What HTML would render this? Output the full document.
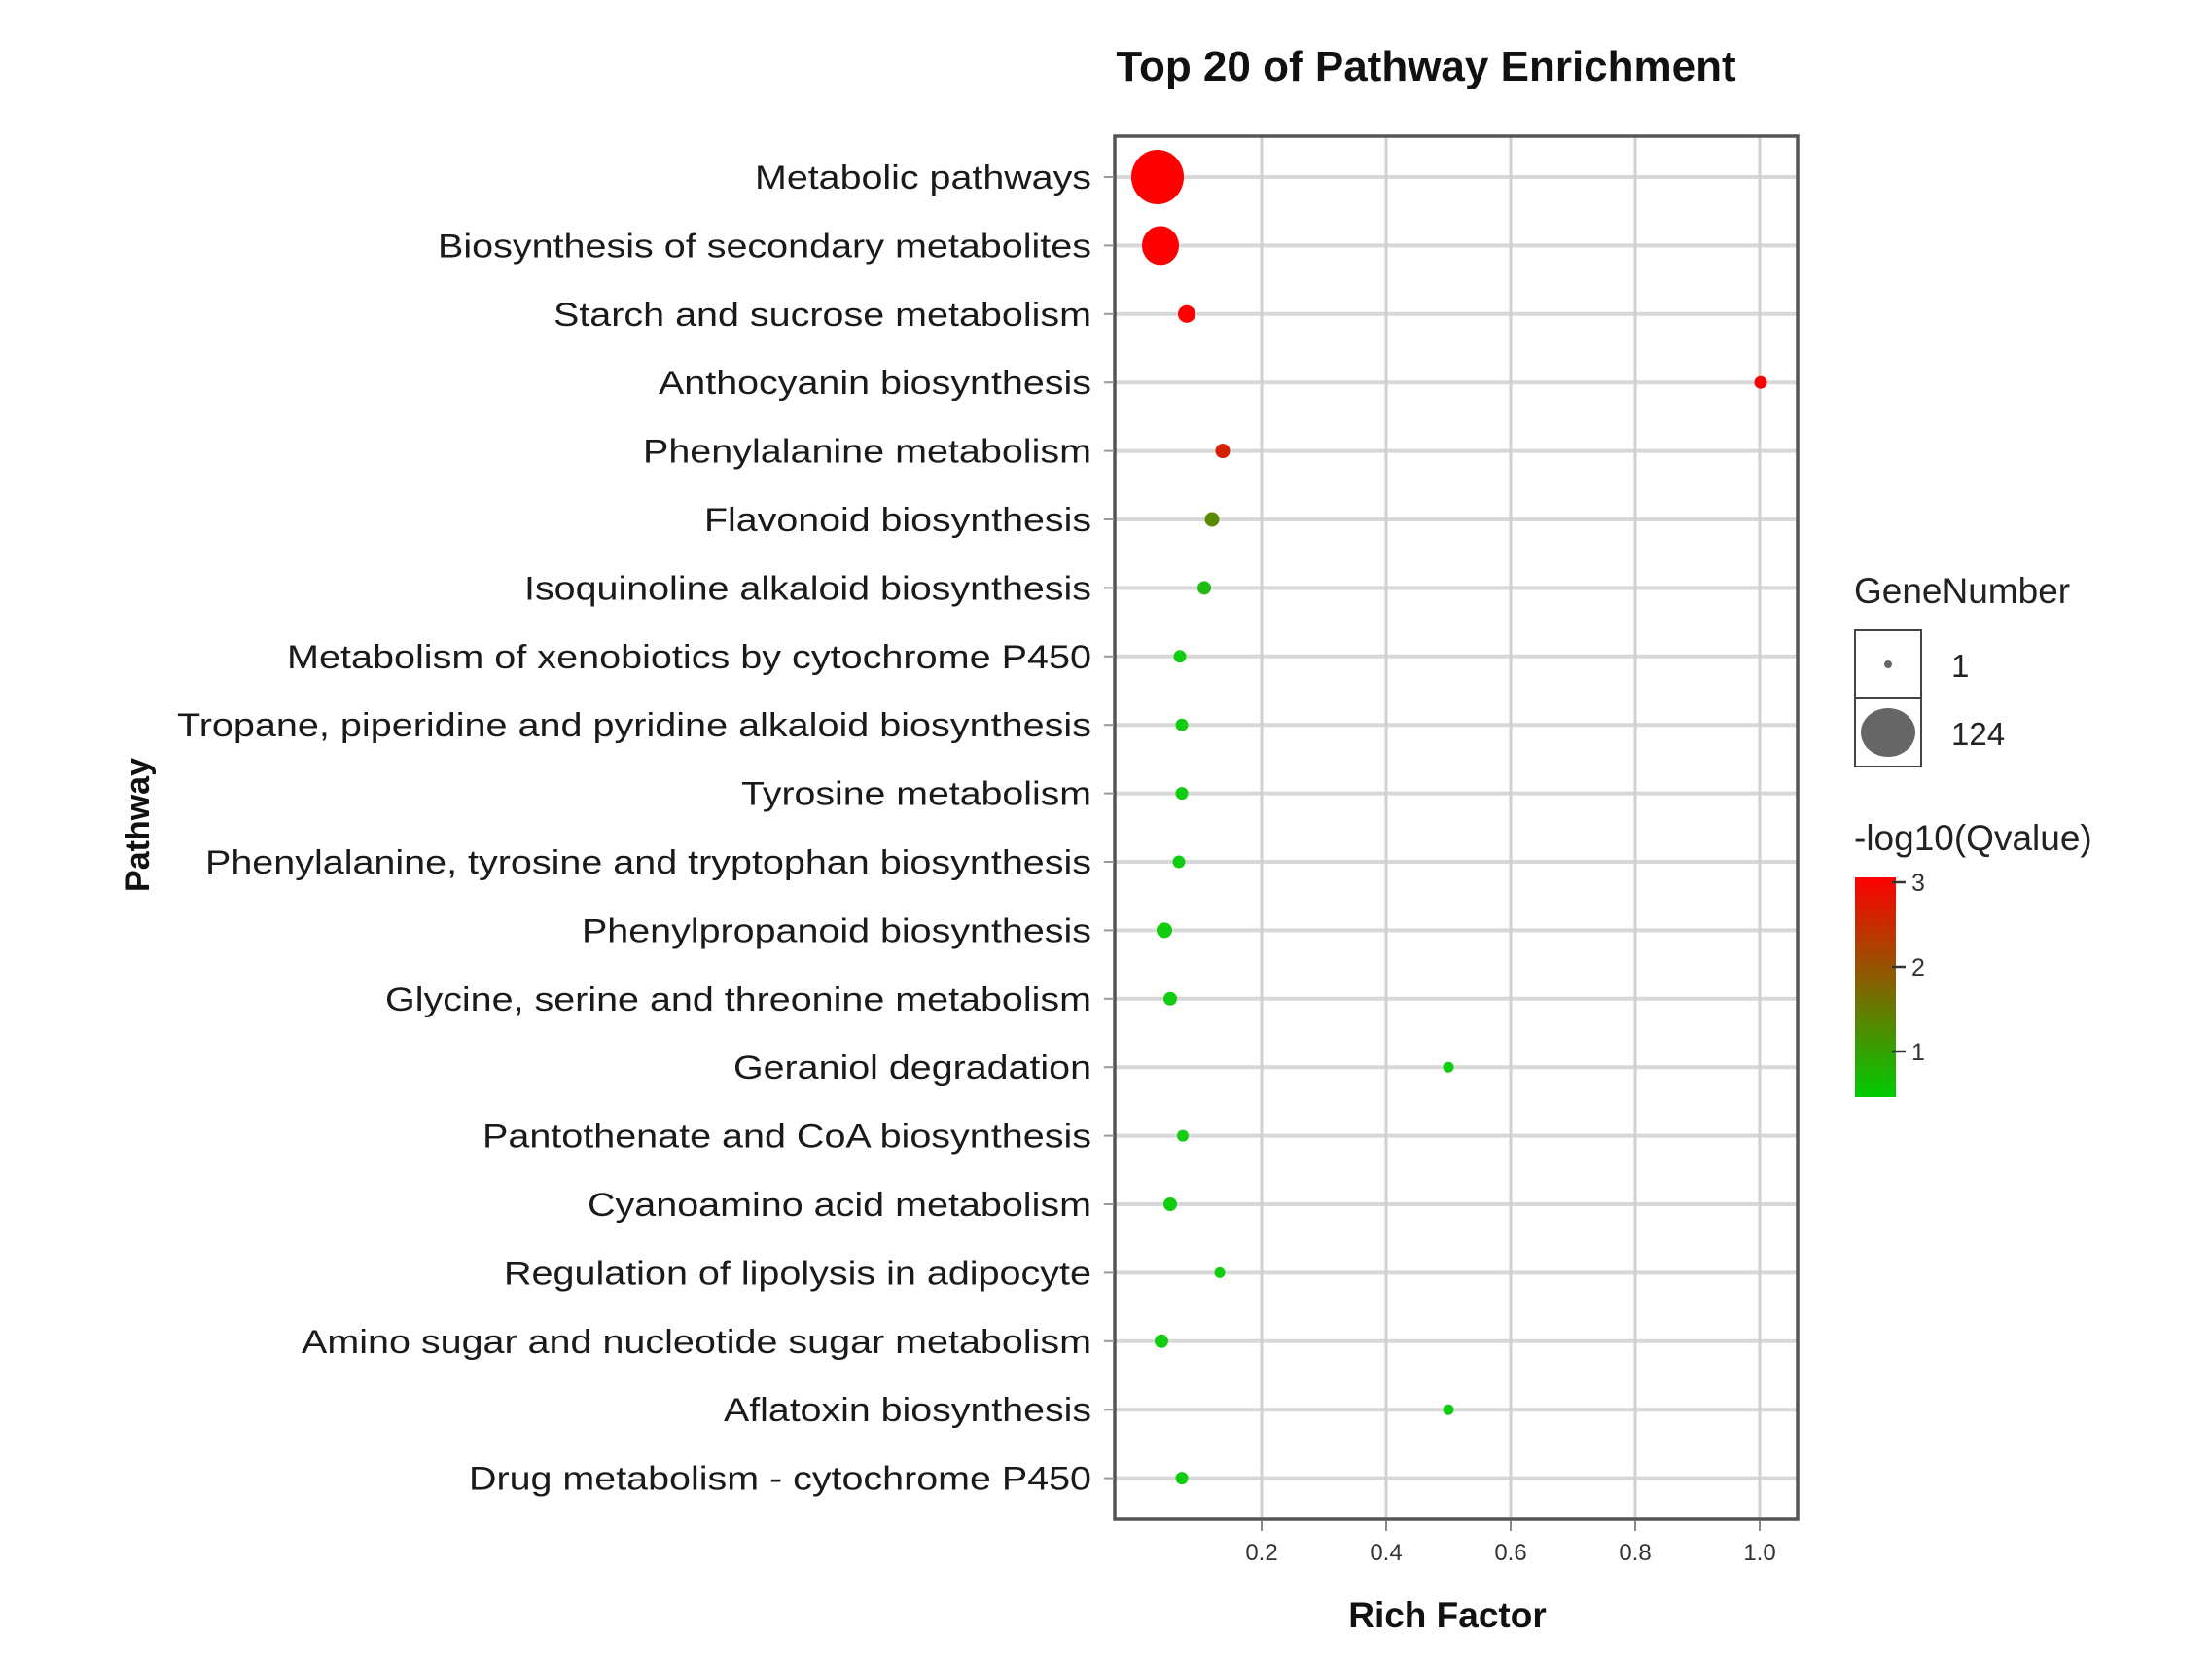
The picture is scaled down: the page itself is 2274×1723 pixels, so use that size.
<!DOCTYPE html>
<html><head><meta charset="utf-8"><style>html,body{margin:0;padding:0;background:#fff}svg{display:block}</style></head>
<body>
<svg width="2274" height="1723" viewBox="0 0 2274 1723" xmlns="http://www.w3.org/2000/svg" font-family="Liberation Sans, Arial, sans-serif">
<rect width="2274" height="1723" fill="#fff"/>
<text x="1466" y="83" font-size="44" font-weight="bold" text-anchor="middle" fill="#111">Top 20 of Pathway Enrichment</text>
<g stroke="#d8d8d8" stroke-width="4">
<line x1="1146" x2="1848" y1="182" y2="182"/><line x1="1146" x2="1848" y1="252.4" y2="252.4"/><line x1="1146" x2="1848" y1="322.8" y2="322.8"/><line x1="1146" x2="1848" y1="393.2" y2="393.2"/><line x1="1146" x2="1848" y1="463.6" y2="463.6"/><line x1="1146" x2="1848" y1="534" y2="534"/><line x1="1146" x2="1848" y1="604.4" y2="604.4"/><line x1="1146" x2="1848" y1="674.8" y2="674.8"/><line x1="1146" x2="1848" y1="745.2" y2="745.2"/><line x1="1146" x2="1848" y1="815.6" y2="815.6"/><line x1="1146" x2="1848" y1="886" y2="886"/><line x1="1146" x2="1848" y1="956.4" y2="956.4"/><line x1="1146" x2="1848" y1="1026.8" y2="1026.8"/><line x1="1146" x2="1848" y1="1097.2" y2="1097.2"/><line x1="1146" x2="1848" y1="1167.6" y2="1167.6"/><line x1="1146" x2="1848" y1="1238" y2="1238"/><line x1="1146" x2="1848" y1="1308.4" y2="1308.4"/><line x1="1146" x2="1848" y1="1378.8" y2="1378.8"/><line x1="1146" x2="1848" y1="1449.2" y2="1449.2"/><line x1="1146" x2="1848" y1="1519.6" y2="1519.6"/>
</g>
<g stroke="#d0d0d0" stroke-width="3">
<line x1="1297" x2="1297" y1="140" y2="1562"/><line x1="1425" x2="1425" y1="140" y2="1562"/><line x1="1553" x2="1553" y1="140" y2="1562"/><line x1="1681" x2="1681" y1="140" y2="1562"/><line x1="1809" x2="1809" y1="140" y2="1562"/>
</g>
<rect x="1146" y="140" width="702" height="1422" fill="none" stroke="#555" stroke-width="3.5"/>
<g stroke="#888" stroke-width="2">
<line x1="1297" x2="1297" y1="1564" y2="1574"/><line x1="1425" x2="1425" y1="1564" y2="1574"/><line x1="1553" x2="1553" y1="1564" y2="1574"/><line x1="1681" x2="1681" y1="1564" y2="1574"/><line x1="1809" x2="1809" y1="1564" y2="1574"/>
</g>
<g font-size="24" fill="#333" text-anchor="middle">
<text x="1297" y="1604">0.2</text><text x="1425" y="1604">0.4</text><text x="1553" y="1604">0.6</text><text x="1681" y="1604">0.8</text><text x="1809" y="1604">1.0</text>
</g>
<text x="1488" y="1673" font-size="37" font-weight="bold" text-anchor="middle" fill="#111">Rich Factor</text>
<text transform="translate(153,848) rotate(-90)" font-size="34" font-weight="bold" text-anchor="middle" fill="#111">Pathway</text>
<g stroke="#999" stroke-width="2">
<line x1="1135" x2="1145" y1="182" y2="182"/><line x1="1135" x2="1145" y1="252.4" y2="252.4"/><line x1="1135" x2="1145" y1="322.8" y2="322.8"/><line x1="1135" x2="1145" y1="393.2" y2="393.2"/><line x1="1135" x2="1145" y1="463.6" y2="463.6"/><line x1="1135" x2="1145" y1="534" y2="534"/><line x1="1135" x2="1145" y1="604.4" y2="604.4"/><line x1="1135" x2="1145" y1="674.8" y2="674.8"/><line x1="1135" x2="1145" y1="745.2" y2="745.2"/><line x1="1135" x2="1145" y1="815.6" y2="815.6"/><line x1="1135" x2="1145" y1="886" y2="886"/><line x1="1135" x2="1145" y1="956.4" y2="956.4"/><line x1="1135" x2="1145" y1="1026.8" y2="1026.8"/><line x1="1135" x2="1145" y1="1097.2" y2="1097.2"/><line x1="1135" x2="1145" y1="1167.6" y2="1167.6"/><line x1="1135" x2="1145" y1="1238" y2="1238"/><line x1="1135" x2="1145" y1="1308.4" y2="1308.4"/><line x1="1135" x2="1145" y1="1378.8" y2="1378.8"/><line x1="1135" x2="1145" y1="1449.2" y2="1449.2"/><line x1="1135" x2="1145" y1="1519.6" y2="1519.6"/>
</g>
<g font-size="34" fill="#1a1a1a" transform="translate(-5,0)">
<text x="781" y="194" textLength="346" lengthAdjust="spacingAndGlyphs">Metabolic pathways</text>
<text x="455" y="264.4" textLength="672" lengthAdjust="spacingAndGlyphs">Biosynthesis of secondary metabolites</text>
<text x="574" y="334.8" textLength="553" lengthAdjust="spacingAndGlyphs">Starch and sucrose metabolism</text>
<text x="682" y="405.2" textLength="445" lengthAdjust="spacingAndGlyphs">Anthocyanin biosynthesis</text>
<text x="666" y="475.6" textLength="461" lengthAdjust="spacingAndGlyphs">Phenylalanine metabolism</text>
<text x="729" y="546" textLength="398" lengthAdjust="spacingAndGlyphs">Flavonoid biosynthesis</text>
<text x="544" y="616.4" textLength="583" lengthAdjust="spacingAndGlyphs">Isoquinoline alkaloid biosynthesis</text>
<text x="300" y="686.8" textLength="827" lengthAdjust="spacingAndGlyphs">Metabolism of xenobiotics by cytochrome P450</text>
<text x="187" y="757.2" textLength="940" lengthAdjust="spacingAndGlyphs">Tropane, piperidine and pyridine alkaloid biosynthesis</text>
<text x="767" y="827.6" textLength="360" lengthAdjust="spacingAndGlyphs">Tyrosine metabolism</text>
<text x="216" y="898" textLength="911" lengthAdjust="spacingAndGlyphs">Phenylalanine, tyrosine and tryptophan biosynthesis</text>
<text x="603" y="968.4" textLength="524" lengthAdjust="spacingAndGlyphs">Phenylpropanoid biosynthesis</text>
<text x="401" y="1038.8" textLength="726" lengthAdjust="spacingAndGlyphs">Glycine, serine and threonine metabolism</text>
<text x="759" y="1109.2" textLength="368" lengthAdjust="spacingAndGlyphs">Geraniol degradation</text>
<text x="501" y="1179.6" textLength="626" lengthAdjust="spacingAndGlyphs">Pantothenate and CoA biosynthesis</text>
<text x="609" y="1250" textLength="518" lengthAdjust="spacingAndGlyphs">Cyanoamino acid metabolism</text>
<text x="523" y="1320.4" textLength="604" lengthAdjust="spacingAndGlyphs">Regulation of lipolysis in adipocyte</text>
<text x="315" y="1390.8" textLength="812" lengthAdjust="spacingAndGlyphs">Amino sugar and nucleotide sugar metabolism</text>
<text x="749" y="1461.2" textLength="378" lengthAdjust="spacingAndGlyphs">Aflatoxin biosynthesis</text>
<text x="487" y="1531.6" textLength="640" lengthAdjust="spacingAndGlyphs">Drug metabolism - cytochrome P450</text>
</g>
<g transform="translate(-5,0)">
<ellipse cx="1195" cy="182" rx="27" ry="28" fill="#ff0000"/>
<ellipse cx="1198" cy="252.4" rx="19" ry="20" fill="#ff0000"/>
<circle cx="1225" cy="322.8" r="9" fill="#ff0000"/>
<circle cx="1815" cy="393.2" r="6.5" fill="#ff0000"/>
<circle cx="1262" cy="463.6" r="7.5" fill="#d42000"/>
<circle cx="1251" cy="534" r="7.5" fill="#5a8a00"/>
<circle cx="1243" cy="604.4" r="7" fill="#22bb11"/>
<circle cx="1218" cy="674.8" r="6.5" fill="#11cc11"/>
<circle cx="1220" cy="745.2" r="6.5" fill="#11cc11"/>
<circle cx="1220" cy="815.6" r="6.5" fill="#11cc11"/>
<circle cx="1217" cy="886" r="6.5" fill="#11cc11"/>
<circle cx="1202" cy="956.4" r="8" fill="#11cc11"/>
<circle cx="1208" cy="1026.8" r="7" fill="#11cc11"/>
<circle cx="1494" cy="1097.2" r="5.5" fill="#11cc11"/>
<circle cx="1221" cy="1167.6" r="6" fill="#11cc11"/>
<circle cx="1208" cy="1238" r="7" fill="#11cc11"/>
<circle cx="1259" cy="1308.4" r="5.5" fill="#11cc11"/>
<circle cx="1199" cy="1378.8" r="7" fill="#11cc11"/>
<circle cx="1494" cy="1449.2" r="5.5" fill="#11cc11"/>
<circle cx="1220" cy="1519.6" r="6.5" fill="#11cc11"/>
</g>
<g transform="translate(-10,0)">
<text x="1916" y="620" font-size="37" fill="#222">GeneNumber</text>
<rect x="1917" y="648" width="68" height="70" fill="#fff" stroke="#444" stroke-width="2"/>
<rect x="1917" y="718" width="68" height="70" fill="#fff" stroke="#444" stroke-width="2"/>
<circle cx="1951" cy="683" r="4" fill="#666"/>
<ellipse cx="1951" cy="753" rx="28" ry="25" fill="#666"/>
<text x="2016" y="696" font-size="33" fill="#222">1</text>
<text x="2016" y="766" font-size="33" fill="#222">124</text>
<text x="1916" y="874" font-size="37" fill="#222">-log10(Qvalue)</text>
<defs><linearGradient id="g" x1="0" y1="0" x2="0" y2="1"><stop offset="0" stop-color="#ff0000"/><stop offset="0.5" stop-color="#7f6600"/><stop offset="1" stop-color="#00cc00"/></linearGradient></defs>
<rect x="1917" y="902" width="42" height="226" fill="url(#g)"/>
<g stroke="#333" stroke-width="2.5"><line x1="1955" x2="1969" y1="907" y2="907"/><line x1="1955" x2="1969" y1="994" y2="994"/><line x1="1955" x2="1969" y1="1081" y2="1081"/></g>
<g font-size="25" fill="#333"><text x="1975" y="916">3</text><text x="1975" y="1003">2</text><text x="1975" y="1090">1</text></g>
</g>
</svg>
</body></html>
